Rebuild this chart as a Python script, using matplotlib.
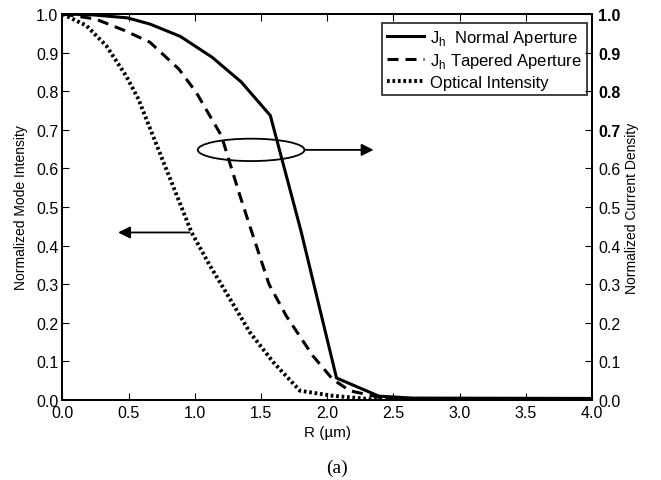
import matplotlib
matplotlib.use("Agg")
import matplotlib.pyplot as plt
from matplotlib.patches import Ellipse

plt.rcParams['font.family'] = ['Liberation Sans', 'DejaVu Sans']

# Data
r_normal = [0.0, 0.22, 0.49, 0.66, 0.89, 1.13, 1.35, 1.57, 1.80, 2.07, 2.39, 2.64, 4.0]
j_normal = [1.0, 0.998, 0.99, 0.974, 0.942, 0.888, 0.824, 0.737, 0.44, 0.057, 0.01, 0.005, 0.004]

r_tapered = [0.0, 0.25, 0.47, 0.66, 0.88, 1.01, 1.20, 1.34, 1.43, 1.56, 1.69, 1.89, 2.04, 2.17, 2.43, 2.64, 4.0]
j_tapered = [1.0, 0.987, 0.957, 0.927, 0.857, 0.797, 0.685, 0.53, 0.435, 0.30, 0.218, 0.115, 0.054, 0.024, 0.004, 0.002, 0.002]

r_optical = [0.0, 0.03, 0.18, 0.33, 0.48, 0.573, 0.70, 0.84, 0.975, 1.114, 1.265, 1.416, 1.592, 1.794, 2.04, 2.33, 2.64, 4.0]
i_optical = [1.0, 0.995, 0.97, 0.918, 0.84, 0.78, 0.67, 0.55, 0.434, 0.348, 0.262, 0.175, 0.098, 0.024, 0.011, 0.002, 0.001, 0.001]

x_ticks = [0.0, 0.5, 1.0, 1.5, 2.0, 2.5, 3.0, 3.5, 4.0]
y_ticks = [0.0, 0.1, 0.2, 0.3, 0.4, 0.5, 0.6, 0.7, 0.8, 0.9, 1.0]

fig = plt.figure(figsize=(6.61, 4.81), dpi=100)
ax = fig.add_axes([62.5 / 661, 1 - 401 / 481, (592 - 62.5) / 661, 386 / 481])

l1, = ax.plot(r_normal, j_normal, color='black', lw=2.2, solid_joinstyle='miter')
l2, = ax.plot(r_tapered, j_tapered, color='black', lw=2.2, dashes=(3.6, 2.3))
l3, = ax.plot(r_optical, i_optical, color='black', lw=2.8, dashes=(0.7, 0.7))

ax.set_xlim(0, 4.0)
ax.set_ylim(0, 1.0)
ax.set_xticks(x_ticks)
ax.set_xticklabels([f"{v:.1f}" for v in x_ticks])
ax.set_yticks(y_ticks)
ax.set_yticklabels([f"{v:.1f}" for v in y_ticks])
ax.tick_params(axis='x', direction='in', length=5, labelsize=11.5, pad=3.5, top=True)
ax.tick_params(axis='y', direction='in', length=5, labelsize=11.5, pad=3)
ax.set_xlabel('R (\u00b5m)', fontsize=11, labelpad=4)
ax.set_ylabel('Normalized Mode Intensity', fontsize=10, labelpad=6)

ax2 = ax.twinx()
ax2.set_ylim(0, 1.0)
ax2.set_yticks(y_ticks)
ax2.set_yticklabels([f"{v:.1f}" for v in y_ticks])
for lab, v in zip(ax2.get_yticklabels(), y_ticks):
    if v >= 0.7:
        lab.set_fontweight('bold')
ax2.tick_params(direction='in', length=5, labelsize=11.5, pad=4.5)
ax2.set_ylabel('Normalized Current Density', fontsize=10, labelpad=3)

for a in (ax, ax2):
    for s in a.spines.values():
        s.set_linewidth(1.3)

leg = ax.legend([l1, l2, l3],
                ['J$_\\mathregular{h}$  Normal Aperture',
                 'J$_\\mathregular{h}$ Tapered Aperture',
                 'Optical Intensity'],
                loc='upper right', bbox_to_anchor=(0.9906, 0.9767),
                fontsize=12, frameon=True, fancybox=False,
                edgecolor='black', handlelength=2.2, handletextpad=0.4,
                borderpad=0.3, labelspacing=0.26, borderaxespad=0.0)
leg.get_frame().set_linewidth(1.3)

# Annotations
ell = Ellipse((1.425, 0.648), 0.806, 0.058, fill=False, edgecolor='black', lw=1.3)
ax.add_patch(ell)
ax.annotate('', xy=(2.35, 0.648), xytext=(1.828, 0.648),
            arrowprops=dict(arrowstyle='-|>', color='black', lw=1.3,
                            mutation_scale=18, shrinkA=0, shrinkB=0))
ax.annotate('', xy=(0.42, 0.434), xytext=(0.96, 0.434),
            arrowprops=dict(arrowstyle='-|>', color='black', lw=1.3,
                            mutation_scale=18, shrinkA=0, shrinkB=0))

fig.text(337 / 661, 1 - 468 / 481, '(a)', ha='center', va='center', fontsize=14,
         family=['Liberation Serif', 'DejaVu Serif'])

fig.savefig('out.png', dpi=100)
